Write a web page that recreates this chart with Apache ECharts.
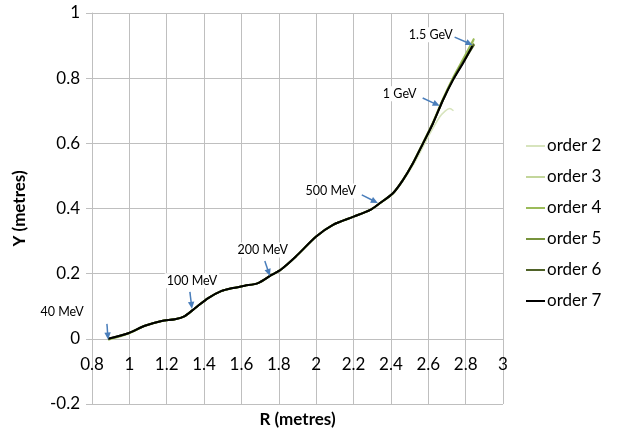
<!DOCTYPE html>
<html><head><meta charset="utf-8">
<script src="https://cdn.jsdelivr.net/npm/echarts@6/dist/echarts.min.js"></script>
<style>html,body{margin:0;padding:0;background:#fff}#c{width:630px;height:436px}</style>
</head><body><div id="c"></div>
<script>
// Shared trajectory (order 7)
const r7 = [0.887,0.994,1.083,1.173,1.244,1.297,1.351,1.422,1.494,1.547,1.618,1.689,1.761,1.81,1.89,2.0,2.09,2.2,2.29,2.34,2.411,2.465,2.518,2.572,2.625,2.679,2.732,2.786,2.836];
const y7 = [0.0,0.017,0.040,0.055,0.060,0.070,0.094,0.125,0.147,0.155,0.163,0.171,0.196,0.212,0.252,0.314,0.350,0.375,0.396,0.416,0.447,0.488,0.539,0.600,0.661,0.733,0.794,0.846,0.899];
// Order 2 departs near 2.55 m
const r2 = [0.887,0.994,1.083,1.173,1.244,1.297,1.351,1.422,1.494,1.547,1.618,1.689,1.761,1.81,1.89,2.0,2.09,2.2,2.29,2.34,2.411,2.465,2.518,2.572,2.608,2.66,2.69,2.715,2.735];
const y2 = [-0.004,0.015,0.039,0.054,0.060,0.070,0.094,0.125,0.147,0.155,0.163,0.171,0.196,0.212,0.252,0.314,0.350,0.375,0.396,0.414,0.444,0.484,0.532,0.590,0.629,0.680,0.699,0.707,0.700];
// Orders 3 to 6 follow order 7, running slightly higher at the top end
const r3 = [0.887,0.994,1.083,1.173,1.244,1.297,1.351,1.422,1.494,1.547,1.618,1.689,1.761,1.81,1.89,2.0,2.09,2.2,2.29,2.34,2.411,2.465,2.518,2.572,2.625,2.679,2.732,2.786,2.845];
const y3 = [-0.003,0.016,0.040,0.055,0.060,0.070,0.094,0.125,0.147,0.155,0.163,0.171,0.196,0.212,0.252,0.314,0.350,0.375,0.396,0.416,0.447,0.489,0.540,0.602,0.664,0.737,0.800,0.856,0.917];
const y4 = [-0.002,0.016,0.040,0.055,0.060,0.070,0.094,0.125,0.147,0.155,0.163,0.171,0.196,0.212,0.252,0.314,0.350,0.375,0.396,0.416,0.447,0.489,0.540,0.602,0.664,0.737,0.801,0.858,0.922];
const y5 = [-0.001,0.017,0.040,0.055,0.060,0.070,0.094,0.125,0.147,0.155,0.163,0.171,0.196,0.212,0.252,0.314,0.350,0.375,0.396,0.416,0.447,0.488,0.539,0.600,0.662,0.734,0.796,0.850,0.906];
const y6 = [0.0,0.017,0.040,0.055,0.060,0.070,0.094,0.125,0.147,0.155,0.163,0.171,0.196,0.212,0.252,0.314,0.350,0.375,0.396,0.416,0.447,0.488,0.539,0.600,0.661,0.733,0.795,0.848,0.903];

const seriesNames = ['order 2','order 3','order 4','order 5','order 6','order 7'];
const seriesColors = ['#d7e4bd','#c3d69b','#9bbb59','#77933c','#4f6228','#000000'];
const seriesX = [r2, r3, r3, r3, r3, r7];
const seriesY = [y2, y3, y4, y5, y6, y7];
const seriesWidth = [1.5,1.5,2,2,2,2];

const xTicks = [0.8,1,1.2,1.4,1.6,1.8,2,2.2,2.4,2.6,2.8,3];
const yTicks = [-0.2,0,0.2,0.4,0.6,0.8,1];

// Annotations: label position, arrow start, arrow end (data coords)
const annLabels = ['40 MeV','100 MeV','200 MeV','500 MeV','1 GeV','1.5 GeV'];
const annText = [[0.64,0.083],[1.335,0.178],[1.714,0.273],[2.078,0.454],[2.447,0.752],[2.613,0.933]];
const annFrom = [[0.880,0.046],[1.324,0.144],[1.725,0.239],[2.244,0.442],[2.570,0.739],[2.741,0.926]];
const annTo = [[0.886,-0.002],[1.335,0.092],[1.752,0.193],[2.330,0.417],[2.661,0.715],[2.837,0.902]];

const FONT = 'Lato';
const fmt = ticks => v => { const s = ticks.find(t => Math.abs(t - v) < 1e-6); return s === undefined ? '' : String(s); };
const chart = echarts.init(document.getElementById('c'));
chart.setOption({
  animation: false,
  textStyle: {fontFamily: FONT},
  grid: {left: 92, right: 127, top: 13, bottom: 32, containLabel: false, outerBoundsMode: 'none'},
  xAxis: {
    type: 'value', min: 0.8, max: 3, interval: 0.2,
    axisLine: {onZero: false, lineStyle: {color: '#bfbfbf'}},
    axisTick: {show: false},
    axisLabel: {fontSize: 17, color: '#000', margin: 17, showMinLabel: true, showMaxLabel: true, formatter: fmt(xTicks)},
    splitLine: {show: true, lineStyle: {color: '#bfbfbf', width: 1}}
  },
  yAxis: {
    type: 'value', min: -0.2, max: 1, interval: 0.2,
    name: 'Y (metres)', nameLocation: 'middle', nameGap: 64, nameRotate: 90,
    nameTextStyle: {fontFamily: FONT, fontSize: 17, fontWeight: 'bold', color: '#000'},
    axisLine: {show: true, onZero: false, lineStyle: {color: '#bfbfbf'}},
    axisTick: {show: true, length: 6, lineStyle: {color: '#bfbfbf'}},
    axisLabel: {fontSize: 17, color: '#000', margin: 12, formatter: fmt(yTicks)},
    splitLine: {show: true, lineStyle: {color: '#bfbfbf', width: 1}}
  },
  legend: {
    orient: 'vertical', left: 521, top: 132,
    icon: 'rect', itemWidth: 19, itemHeight: 2, itemGap: 13,
    textStyle: {fontFamily: FONT, fontSize: 17, lineHeight: 18, color: '#000', padding: [0,0,0,-3]},
    data: seriesNames
  },
  series: seriesNames.map((n, i) => ({
    name: n, type: 'line', symbol: 'none', showSymbol: false, smooth: 0.25, color: seriesColors[i],
    itemStyle: {color: seriesColors[i]},
    lineStyle: {color: seriesColors[i], width: seriesWidth[i]},
    data: seriesX[i].map((x, k) => [x, seriesY[i][k]]),
    z: 2 + i
  }))
});

// Move the x axis (labels) up to cross at y = 0, as in the reference
const pZero = chart.convertToPixel({gridIndex: 0}, [0.8, 0]);
const pBot = chart.convertToPixel({gridIndex: 0}, [0.8, -0.2]);
chart.setOption({xAxis: {offset: -(pBot[1] - pZero[1])}});

const g = [];
const arrowColor = '#4a7ebb';
annLabels.forEach((lab, i) => {
  const t = chart.convertToPixel({gridIndex: 0}, annText[i]);
  const a = chart.convertToPixel({gridIndex: 0}, annFrom[i]);
  const b = chart.convertToPixel({gridIndex: 0}, annTo[i]);
  const ang = Math.atan2(b[1] - a[1], b[0] - a[0]);
  const L = 7, W = 3.2;
  const p1 = [b[0] - L*Math.cos(ang) + W*Math.sin(ang), b[1] - L*Math.sin(ang) - W*Math.cos(ang)];
  const p2 = [b[0] - L*Math.cos(ang) - W*Math.sin(ang), b[1] - L*Math.sin(ang) + W*Math.cos(ang)];
  const base = [b[0] - (L-1)*Math.cos(ang), b[1] - (L-1)*Math.sin(ang)];
  g.push({type: 'text', x: t[0], y: t[1], z: 100,
    style: {text: lab, fontFamily: FONT, fontSize: 12.5, fill: '#000', align: 'center', verticalAlign: 'middle',
      backgroundColor: '#fff', padding: [1,2]}});
  g.push({type: 'line', z: 100, shape: {x1: a[0], y1: a[1], x2: base[0], y2: base[1]},
    style: {stroke: arrowColor, lineWidth: 1.5}});
  g.push({type: 'polygon', z: 100, shape: {points: [b, p1, p2]}, style: {fill: arrowColor}});
});
const xr = chart.convertToPixel({gridIndex: 0}, [1.9, -0.2]);
g.push({type: 'text', x: xr[0], y: 420, z: 100,
  style: {text: 'R (metres)', fontFamily: FONT, fontSize: 17, fontWeight: 'bold', fill: '#000', align: 'center', verticalAlign: 'middle'}});
chart.setOption({graphic: g});
</script>
</body></html>
